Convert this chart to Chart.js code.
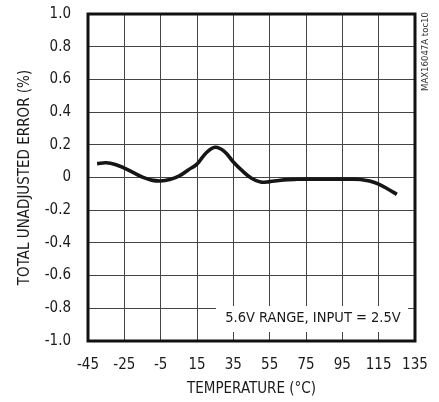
<!DOCTYPE html>
<html>
<head>
<meta charset="utf-8">
<script src="https://cdn.jsdelivr.net/npm/chart.js@4"></script>
<style>
html,body{margin:0;padding:0;background:#fff;}
#wrap{width:439px;height:402px;position:relative;}
</style>
</head>
<body>
<div id="wrap"><canvas id="c" width="439" height="402"></canvas></div>
<script>
const temperatures = [-40,-35,-30,-25,-20,-15,-10,-5,0,5,10,15,20,25,30,35,40,45,50,55,60,65,70,75,80,85,90,95,100,105,110,115,120,125];
const errorPct = [0.085,0.09,0.08,0.058,0.03,0.002,-0.016,-0.021,-0.012,0.008,0.045,0.082,0.15,0.185,0.16,0.095,0.04,-0.005,-0.028,-0.025,-0.018,-0.013,-0.011,-0.01,-0.01,-0.01,-0.01,-0.01,-0.01,-0.012,-0.022,-0.04,-0.07,-0.103];
const xTicks = [-45,-25,-5,15,35,55,75,95,115,135];
const yTicks = [-1.0,-0.8,-0.6,-0.4,-0.2,0,0.2,0.4,0.6,0.8,1.0];
const xTitle = 'TEMPERATURE (°C)';
const yTitle = 'TOTAL UNADJUSTED ERROR (%)';
const noteText = '5.6V RANGE, INPUT = 2.5V';
const tocText = 'MAX16047A toc10';

const FONT = "'Liberation Sans Narrow', 'DejaVu Sans Condensed', 'Liberation Sans', Arial, sans-serif";

const overlay = {
  id: 'overlay',
  beforeDatasetsDraw(chart) {
    const {ctx, chartArea: a} = chart;
    ctx.save();
    ctx.fillStyle = '#fff';
    ctx.fillRect(a.left + 128, a.bottom - 35, 192, 26);
    ctx.fillStyle = '#1a1a1a';
    ctx.font = '14.5px ' + FONT;
    ctx.textAlign = 'center';
    ctx.textBaseline = 'middle';
    ctx.fillText(noteText, a.left + 225, a.bottom - 23);
    ctx.restore();
  },
  afterDraw(chart) {
    const {ctx, chartArea: a} = chart;
    ctx.save();
    ctx.strokeStyle = '#111';
    ctx.lineWidth = 3;
    ctx.strokeRect(a.left, a.top, a.right - a.left, a.bottom - a.top);
    ctx.translate(a.right + 11, a.top + 77);
    ctx.rotate(-Math.PI / 2);
    ctx.fillStyle = '#333';
    ctx.font = '9.5px ' + FONT;
    ctx.textAlign = 'left';
    ctx.textBaseline = 'middle';
    ctx.fillText(tocText, 0, 0);
    ctx.restore();
  }
};

new Chart(document.getElementById('c'), {
  type: 'line',
  data: {
    datasets: [{
      data: temperatures.map((t, i) => ({x: t, y: errorPct[i]})),
      borderColor: '#161616',
      borderWidth: 3.6,
      pointRadius: 0,
      tension: 0.4,
      fill: false
    }]
  },
  options: {
    responsive: false,
    animation: false,
    devicePixelRatio: 1,
    layout: {padding: {left: 0, right: 24, top: 14, bottom: 0}},
    plugins: {legend: {display: false}, tooltip: {enabled: false}},
    scales: {
      x: {
        type: 'linear', min: -45, max: 135,
        afterBuildTicks(s) { s.ticks = xTicks.map(v => ({value: v})); },
        afterFit(s) { s.height = 61; s.paddingLeft = 0; s.paddingRight = 0; },
        grid: {color: '#444', lineWidth: 1, drawTicks: false},
        border: {display: false},
        ticks: {color: '#1a1a1a', font: {family: FONT, size: 15}, padding: 15, maxRotation: 0, autoSkip: false,
          callback: v => String(v)},
        title: {display: true, text: xTitle, color: '#1a1a1a', font: {family: FONT, size: 15}, padding: {top: 0, bottom: 4}}
      },
      y: {
        type: 'linear', min: -1, max: 1,
        afterBuildTicks(s) { s.ticks = yTicks.map(v => ({value: v})); },
        afterFit(s) { s.width = 88; s.paddingTop = 0; s.paddingBottom = 0; },
        grid: {color: '#444', lineWidth: 1, drawTicks: false},
        border: {display: false},
        ticks: {color: '#1a1a1a', font: {family: FONT, size: 15}, padding: 17, autoSkip: false,
          callback: v => (Math.abs(v) < 1e-9 ? '0' : v.toFixed(1))},
        title: {display: true, text: yTitle, color: '#1a1a1a', font: {family: FONT, size: 15}, padding: {top: 16, bottom: 0}}
      }
    }
  },
  plugins: [overlay]
});
</script>
</body>
</html>
